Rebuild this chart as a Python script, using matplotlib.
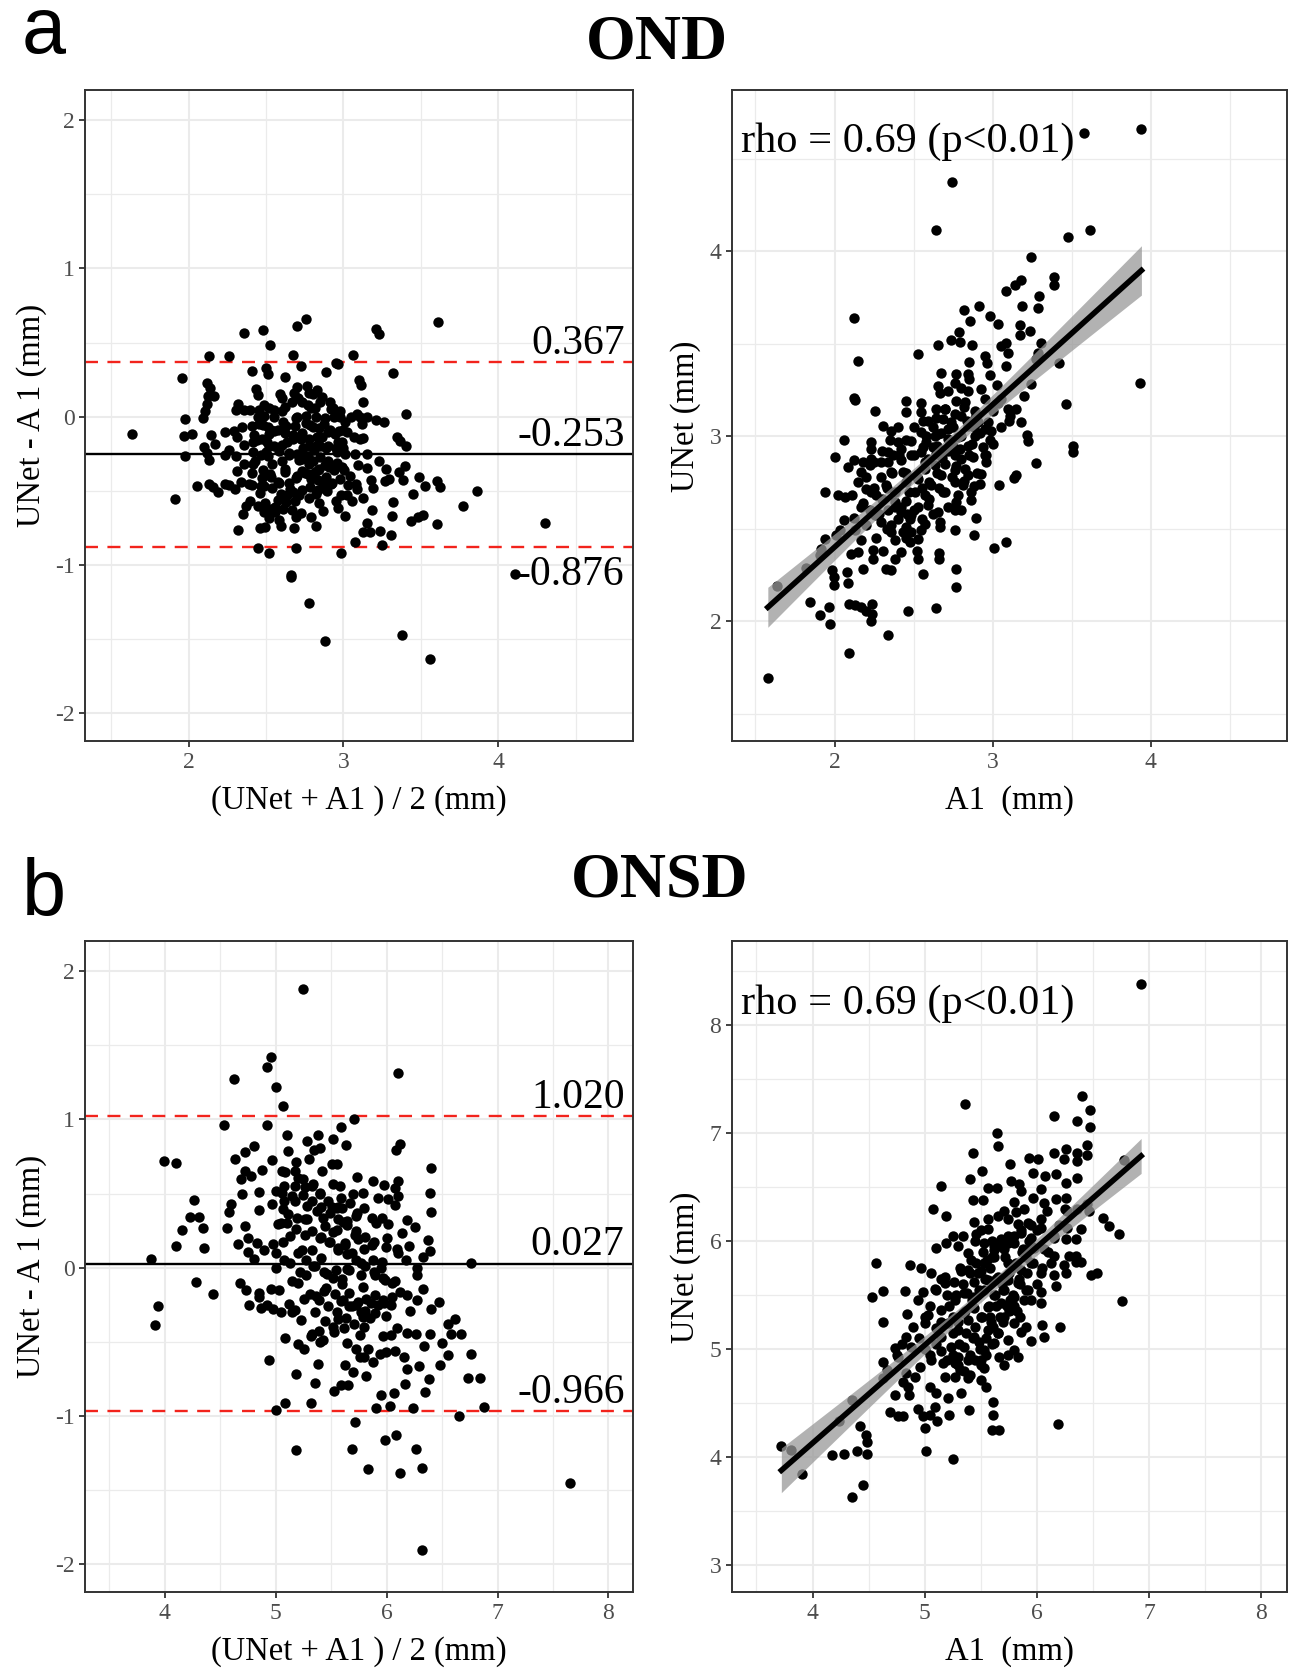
import numpy as np
import matplotlib
import matplotlib.pyplot as plt

matplotlib.use("Agg")
plt.rcParams["axes.unicode_minus"] = False

# OND: (A1, UNet) pairs
ond_a1 = [
    3.58, 2.745, 2.643, 3.614, 3.473, 3.245, 3.386, 3.386, 3.181, 3.143, 3.082, 3.291, 2.819, 2.911,
    3.186, 3.287, 2.854, 2.981, 3.034, 2.122, 2.785, 3.175, 3.234, 3.175, 2.738, 2.654, 2.869, 2.791,
    3.308, 3.086, 3.055, 3.097, 3.285, 2.527, 2.148, 2.954, 2.852, 2.964, 3.084, 3.276, 3.418, 2.675,
    2.770, 2.844, 2.981, 2.852, 2.759, 3.245, 2.654, 2.665, 2.717, 2.802, 2.844, 2.928, 3.025, 2.127,
    2.122, 2.454, 2.548, 2.770, 2.949, 3.466, 3.034, 3.94, 3.93,
    2.449, 2.549, 2.591, 2.643, 2.696, 2.253, 2.306, 2.354, 2.823, 2.886, 3.002, 3.055, 3.097, 3.108,
    3.177, 3.219, 3.224, 3.508, 3.508, 3.272, 3.146, 3.133, 3.040, 3.086, 3.008, 2.059, 2.004, 2.084,
    2.122, 2.165, 2.179, 2.228, 2.232, 2.232, 2.222, 1.937, 2.021, 2.068, 2.110, 2.165, 2.200, 2.232,
    2.295, 2.338, 2.338, 2.359, 2.422, 2.422, 2.432, 2.454, 2.327, 2.264, 2.380, 2.222, 2.253, 2.296,
    2.338, 2.359, 2.359, 2.059, 2.032, 2.011, 2.127, 2.169, 1.937, 1.916, 1.905, 1.821, 1.635, 1.842,
    1.905, 1.962, 1.968, 1.983, 1.996, 1.996, 2.080, 2.084, 2.089, 2.127, 2.165, 2.196, 2.236, 2.236,
    2.232, 2.338, 2.089, 1.578, 2.464, 2.639, 2.559, 2.770, 2.770, 2.660, 2.660, 2.521, 2.527, 2.380,
    2.422, 2.327, 2.359, 2.243, 2.243, 2.306, 2.148, 2.105, 2.179, 2.665, 2.665, 2.654, 2.759, 2.759,
    2.882, 2.897, 2.865, 2.882, 2.770, 2.549, 2.527, 2.475, 2.485, 2.454, 2.422, 2.485, 2.570, 2.591,
    2.570, 2.612, 2.686, 2.759, 2.812, 2.844, 2.823, 2.759, 2.675, 2.633, 2.570, 2.527, 2.506, 2.485,
    2.549, 2.591, 2.643, 2.696, 2.759, 2.802, 2.876, 2.949, 2.960, 2.928, 2.580, 2.633, 2.717, 2.781,
    2.844, 2.886, 2.949, 2.992, 2.970, 2.907, 2.844, 2.802, 2.738, 2.686, 2.717, 2.654, 2.549, 2.485,
    2.401, 2.369, 2.296, 2.45, 2.50, 2.55, 2.60, 2.70, 2.75, 2.65, 2.40, 2.45, 2.38,
    # dense core
    2.42, 2.47, 2.52, 2.57, 2.62, 2.67, 2.72, 2.77, 2.82, 2.87, 2.92, 2.60, 2.55, 2.65, 2.70, 2.75,
    2.80, 2.85, 2.90, 2.62, 2.50, 2.45, 2.58, 2.68, 2.74, 2.79, 2.84, 2.89, 2.94, 2.98, 2.53, 2.48,
    2.43, 2.38, 2.33, 2.36, 2.41, 2.64, 2.70, 2.76, 2.82, 2.88, 2.72, 2.78, 2.66, 2.56,
    2.15, 2.20, 2.25, 2.30, 2.28, 2.33, 2.38, 2.18, 2.12, 2.25, 2.30, 2.35, 2.40, 2.45, 2.50, 2.56,
    2.62, 2.80, 2.86, 2.92, 2.96, 3.00, 3.05, 3.10, 3.15, 3.20, 2.46, 2.26, 2.20,
]
ond_unet = [
    4.64, 4.376, 4.117, 4.117, 4.077, 3.968, 3.862, 3.817, 3.847, 3.817, 3.788, 3.757, 3.682, 3.707,
    3.707, 3.691, 3.622, 3.649, 3.608, 3.637, 3.563, 3.599, 3.568, 3.545, 3.518, 3.496, 3.496, 3.509,
    3.505, 3.505, 3.487, 3.448, 3.448, 3.446, 3.406, 3.433, 3.401, 3.394, 3.380, 3.416, 3.397, 3.343,
    3.338, 3.335, 3.329, 3.308, 3.286, 3.281, 3.272, 3.236, 3.245, 3.263, 3.245, 3.254, 3.275, 3.194,
    3.205, 3.191, 3.182, 3.191, 3.200, 3.173, 3.182, 4.66, 3.29,
    3.129, 3.129, 3.085, 3.147, 3.147, 3.138, 3.058, 3.031, 3.183, 3.138, 3.138, 3.201, 3.147, 3.112,
    3.079, 3.007, 2.977, 2.950, 2.917, 2.856, 2.788, 2.773, 2.737, 2.428, 2.396, 2.980, 2.887, 2.836,
    2.869, 2.806, 2.860, 2.968, 2.932, 2.878, 2.842, 2.698, 2.680, 2.671, 2.680, 2.617, 2.716, 2.698,
    2.779, 2.914, 2.860, 2.806, 2.932, 2.869, 2.806, 2.752, 2.734, 2.680, 2.644, 2.599, 2.572, 2.536,
    2.599, 2.518, 2.482, 2.545, 2.491, 2.464, 2.491, 2.437, 2.442, 2.392, 2.356, 2.288, 2.189, 2.104,
    2.036, 2.077, 1.986, 2.275, 2.239, 2.198, 2.266, 2.209, 2.095, 2.086, 2.077, 2.054, 2.095, 2.041,
    2.002, 1.928, 1.826, 1.694, 2.056, 2.074, 2.254, 2.284, 2.185, 2.371, 2.335, 2.378, 2.338, 2.338,
    2.374, 2.284, 2.275, 2.383, 2.338, 2.378, 2.374, 2.365, 2.284, 2.536, 2.509, 2.590, 2.599, 2.491,
    2.468, 2.558, 2.658, 2.730, 2.644, 2.491, 2.446, 2.428, 2.482, 2.509, 2.590, 2.572, 2.527, 2.626,
    2.680, 2.734, 2.698, 2.752, 2.734, 2.788, 2.824, 2.815, 2.788, 2.842, 2.824, 2.770, 2.698, 2.896,
    2.914, 2.878, 2.905, 2.923, 2.896, 2.878, 2.887, 2.896, 2.860, 2.797, 2.968, 3.004, 2.986, 2.995,
    2.950, 3.004, 3.040, 3.031, 3.076, 3.076, 3.058, 3.112, 3.076, 3.094, 3.040, 3.013, 3.022, 2.977,
    2.968, 2.896, 2.860, 2.65, 2.60, 2.55, 2.75, 2.85, 2.95, 2.95, 2.55, 2.45, 2.70,
    # dense core
    2.62, 2.70, 2.78, 2.86, 2.94, 3.02, 2.92, 2.84, 2.76, 2.96, 3.02, 2.66, 2.72, 2.80, 2.70, 3.05,
    3.00, 2.90, 2.80, 2.58, 2.90, 2.80, 3.00, 2.88, 2.78, 2.93, 3.08, 3.10, 2.94, 2.98, 2.62, 2.55,
    2.48, 2.62, 2.72, 2.80, 2.90, 3.10, 3.15, 3.12, 3.16, 3.05, 2.62, 2.68, 2.72, 2.94,
    2.75, 2.78, 2.72, 2.66, 2.58, 2.50, 2.44, 2.64, 2.56, 2.86, 2.92, 2.98, 3.05, 2.98, 3.05, 3.08,
    3.05, 2.60, 2.70, 2.74, 2.90, 2.96, 3.05, 3.08, 3.15, 3.22, 2.58, 2.45, 2.52,
]

# ONSD: (A1, UNet) pairs
onsd_a1 = [
    6.93, 5.361, 6.405, 6.473, 6.154, 6.361, 6.473, 5.645, 5.651, 5.429, 6.444, 6.154, 6.257, 6.243,
    6.361, 6.444, 6.361, 5.932, 6.012, 5.763, 5.515, 5.148, 5.408, 5.562, 5.645, 5.769, 5.843, 5.858,
    5.962, 6.071, 6.169, 6.257, 6.355, 6.036, 5.429, 5.518, 5.799, 5.962, 6.065, 6.169, 6.257, 5.074,
    5.192, 5.444, 5.562, 5.710, 5.814, 5.888, 6.036, 6.095, 6.272, 6.361, 6.464, 6.450, 6.592, 6.642,
    6.737, 6.775, 6.391, 6.272, 6.346, 6.257, 6.154, 6.036, 5.917, 5.828, 5.740, 5.651, 5.562, 5.459,
    5.340, 5.252, 5.192, 5.104, 5.296, 5.385, 5.533, 5.621, 5.740, 5.858, 5.947, 5.710, 5.799, 5.873,
    5.976, 6.065, 6.154, 6.287, 6.346,
    4.565, 4.867, 4.970, 5.059, 5.178, 5.178, 5.311, 4.527, 4.630, 4.822, 4.630, 4.846, 4.941, 4.985,
    5.089, 5.030, 5.000, 4.837, 4.734, 4.882, 4.630, 4.660, 4.630, 4.763, 4.837, 4.808, 4.852, 4.734,
    4.861, 4.349, 4.237, 4.423, 4.476, 4.482, 3.722, 3.808, 4.172, 4.284, 4.393, 4.488, 3.905, 4.453,
    4.349, 4.689, 4.763, 4.808, 4.941, 4.985, 5.044, 5.112, 5.000, 5.015, 5.257, 4.911, 4.956, 5.044,
    5.104, 5.089, 5.207, 5.213, 5.325, 5.399, 5.408, 5.503, 5.547, 5.607, 5.607, 5.598, 5.666, 6.189,
    6.760, 6.479, 6.533, 6.169, 6.036, 6.041, 6.050, 6.065, 6.207, 5.947, 5.858, 5.828, 5.740, 5.710,
    5.533, 5.385, 5.311, 5.266, 5.178, 5.163, 5.059, 5.296, 5.385, 5.533, 5.621, 5.740, 5.651, 5.562,
    5.444, 5.355, 5.237, 5.148, 5.104, 5.207, 5.296, 5.385, 5.503, 5.592, 5.710, 5.799, 5.769, 5.680,
    5.562, 5.444, 5.340, 5.251, 5.148, 5.266, 5.355, 5.444, 5.533, 5.621, 5.710, 5.799, 5.888, 5.917,
    5.828, 5.740, 5.651, 5.562, 5.473, 5.385, 5.414, 5.533, 5.621, 5.740, 5.858, 5.947, 6.036, 6.124,
    6.243, 6.346, 6.391, 6.154, 6.257, 5.488, 5.266, 5.503, 5.666, 5.799,
    # dense core
    5.22, 5.28, 5.34, 5.40, 5.46, 5.52, 5.58, 5.64, 5.70, 5.76, 5.82, 5.30, 5.36, 5.42, 5.48, 5.54,
    5.60, 5.66, 5.72, 5.78, 5.84, 5.90, 5.45, 5.51, 5.57, 5.63, 5.69, 5.75, 5.81, 5.87, 5.93, 5.25,
    5.31, 5.37, 5.43, 5.49, 5.55, 5.61, 5.67, 5.73, 5.79, 5.85, 5.91, 5.97, 5.38, 5.44, 5.50, 5.56,
    5.62, 5.68, 5.74, 5.80, 5.86, 5.95, 5.26, 5.32, 5.20, 5.15, 5.58, 5.64,
    4.95, 5.00, 5.05, 5.10, 5.15, 5.20, 5.25, 5.30, 5.35, 5.40, 5.45, 5.50, 5.55, 5.60, 5.65, 5.70,
    5.75, 5.80, 5.85, 5.90, 5.95, 6.00, 6.05, 6.10, 6.00, 5.95, 5.90, 6.15, 6.20, 6.25, 5.45, 5.50,
    5.60, 5.05, 5.10, 5.15, 5.00, 4.90, 4.80, 4.75,
]
onsd_unet = [
    8.38, 7.268, 7.345, 7.215, 7.154, 7.108, 7.052, 6.994, 6.877, 6.815, 6.892, 6.809, 6.846, 6.754,
    6.809, 6.791, 6.738, 6.769, 6.760, 6.708, 6.646, 6.508, 6.569, 6.492, 6.492, 6.554, 6.529, 6.462,
    6.625, 6.600, 6.615, 6.538, 6.585, 6.485, 6.378, 6.378, 6.360, 6.400, 6.354, 6.385, 6.400, 6.298,
    6.231, 6.175, 6.200, 6.277, 6.268, 6.292, 6.200, 6.277, 6.277, 6.292, 6.277, 6.338, 6.215, 6.138,
    6.068, 6.745, 6.114, 6.123, 6.022, 6.022, 6.031, 6.123, 6.169, 6.154, 6.200, 6.231, 6.108, 6.062,
    6.046, 6.046, 5.985, 5.938, 5.954, 5.892, 5.985, 5.954, 6.046, 6.077, 6.031, 5.923, 5.985, 5.923,
    5.938, 5.923, 5.862, 5.862, 5.862,
    5.792, 5.777, 5.746, 5.706, 5.669, 5.608, 5.746, 5.485, 5.540, 5.540, 5.254, 5.322, 5.454, 5.531,
    5.552, 5.315, 5.245, 5.115, 5.008, 5.023, 4.885, 4.808, 4.731, 4.931, 4.777, 4.700, 4.654, 4.577,
    4.577, 4.525, 4.331, 4.291, 4.208, 4.137, 4.106, 4.069, 4.023, 4.029, 4.054, 4.032, 3.848, 3.746,
    3.632, 4.423, 4.386, 4.377, 4.445, 4.386, 4.392, 4.331, 4.269, 4.054, 3.986, 4.746, 4.838, 4.654,
    4.592, 4.469, 4.546, 4.392, 4.598, 4.438, 4.762, 4.715, 4.654, 4.515, 4.392, 4.248, 4.248, 4.309,
    5.445, 5.685, 5.700, 5.583, 5.531, 5.429, 5.223, 5.115, 5.202, 5.078, 5.162, 4.931, 4.946, 4.854,
    4.823, 4.731, 4.808, 4.746, 4.746, 4.869, 4.900, 4.931, 4.900, 4.992, 5.054, 5.085, 5.146, 5.177,
    5.115, 5.023, 5.023, 5.115, 5.192, 5.238, 5.177, 5.269, 5.300, 5.254, 5.300, 5.238, 5.362, 5.423,
    5.392, 5.377, 5.331, 5.300, 5.362, 5.454, 5.515, 5.485, 5.546, 5.500, 5.546, 5.485, 5.454, 5.546,
    5.608, 5.638, 5.669, 5.638, 5.700, 5.731, 5.823, 5.792, 5.854, 5.792, 5.731, 5.792, 5.700, 5.792,
    5.777, 5.808, 5.808, 5.685, 5.700, 5.069, 4.869, 4.900, 4.931, 4.992,
    # dense core
    5.40, 5.50, 5.60, 5.70, 5.80, 5.90, 5.75, 5.65, 5.55, 5.45, 5.35, 5.25, 5.35, 5.45, 5.55, 5.65,
    5.85, 5.95, 5.85, 5.75, 5.65, 5.55, 5.20, 5.30, 5.40, 5.50, 5.60, 5.70, 5.80, 5.90, 6.00, 5.15,
    5.05, 5.15, 5.10, 5.00, 5.10, 5.20, 5.30, 5.40, 5.50, 5.60, 5.70, 5.80, 5.52, 5.62, 5.72, 5.82,
    5.92, 6.02, 5.98, 6.05, 6.10, 6.15, 5.62, 5.72, 5.50, 5.25, 5.30, 5.40,
    5.10, 5.00, 4.95, 5.05, 4.98, 4.90, 4.95, 4.85, 4.80, 4.95, 4.90, 4.85, 4.95, 5.05, 5.15, 5.25,
    5.35, 5.40, 5.30, 5.20, 5.45, 5.60, 5.75, 5.90, 6.10, 5.95, 5.85, 6.05, 6.15, 6.30, 6.00, 6.10,
    6.00, 5.40, 5.55, 5.65, 5.30, 5.20, 5.05, 4.95,
]

# agreement lines printed on the Bland-Altman panels (upper LoA, bias, lower LoA)
ond_limits = [0.367, -0.253, -0.876]
onsd_limits = [1.020, 0.027, -0.966]
rho_text = "rho = 0.69 (p<0.01)"

SERIF = "Liberation Serif"
GRID = "#EBEBEB"


def style_axes(ax, xlim, ylim, xticks, yticks):
    ax.set_xticks(xticks)
    ax.set_yticks(yticks)
    ax.set_xticks([t + 0.5 for t in xticks[:-1]] + [xticks[0] - 0.5, xticks[-1] + 0.5], minor=True)
    ax.set_yticks([t + 0.5 for t in yticks[:-1]] + [yticks[0] - 0.5, yticks[-1] + 0.5], minor=True)
    ax.set_xlim(xlim)
    ax.set_ylim(ylim)
    ax.grid(which="major", color=GRID, linewidth=1.5)
    ax.grid(which="minor", color=GRID, linewidth=0.9)
    ax.set_axisbelow(True)
    ax.tick_params(which="minor", length=0)
    ax.tick_params(which="major", length=4.5, width=1.3, color="#333333",
                   labelcolor="#4D4D4D", labelsize=17, pad=3)
    for lab in ax.get_xticklabels() + ax.get_yticklabels():
        lab.set_fontfamily(SERIF)
    for s in ax.spines.values():
        s.set_color("#333333")
        s.set_linewidth(1.4)


def bland_altman(ax, a1, unet, limits, xlim, xticks, low_below):
    a1 = np.array(a1)
    unet = np.array(unet)
    mean = (unet + a1) / 2
    diff = a1 - unet
    ax.scatter(mean, diff, s=56, color="black", linewidths=0, zorder=3)
    upper, bias, lower = limits
    ax.axhline(bias, color="black", linewidth=1.7, zorder=2)
    for v in (upper, lower):
        ax.axhline(v, color="#F2231C", linewidth=1.7, dashes=(5.5, 4), zorder=2)
    style_axes(ax, xlim, (-2.19, 2.2), xticks, [-2, -1, 0, 1, 2])
    trans = ax.get_yaxis_transform()
    for v in limits:
        off = -28 if (v == lower and low_below) else 6
        ax.annotate(f"{v:.3f}", xy=(0.985, v), xycoords=trans, xytext=(0, off),
                    textcoords="offset points", ha="right", va="baseline",
                    fontsize=30, family=SERIF, zorder=4)
    ax.set_xlabel("(UNet + A1 ) / 2 (mm)", family=SERIF, fontsize=23.5, labelpad=9)
    ax.set_ylabel("UNet - A 1 (mm)", family=SERIF, fontsize=23.5, labelpad=6)


def correlation(ax, a1, unet, xlim, ylim, xticks, yticks, rho_y):
    a1 = np.array(a1)
    unet = np.array(unet)
    ax.scatter(a1, unet, s=56, color="black", linewidths=0, zorder=3)
    # linear fit with 95% confidence band, like geom_smooth(method = "lm")
    slope, intercept = np.polyfit(a1, unet, 1)
    n = len(a1)
    resid = unet - (slope * a1 + intercept)
    s_err = np.sqrt(np.sum(resid ** 2) / (n - 2))
    xs = np.linspace(a1.min(), a1.max(), 100)
    ys = slope * xs + intercept
    se = s_err * np.sqrt(1 / n + (xs - a1.mean()) ** 2 / np.sum((a1 - a1.mean()) ** 2))
    ax.fill_between(xs, ys - 1.97 * se, ys + 1.97 * se, color="#999999", alpha=0.75,
                    linewidth=0, zorder=4)
    ax.plot(xs, ys, color="black", linewidth=4, zorder=5)
    style_axes(ax, xlim, ylim, xticks, yticks)
    ax.text(0.017, rho_y, rho_text, transform=ax.transAxes, fontsize=30.5,
            family=SERIF, va="baseline", ha="left", zorder=6)
    ax.set_xlabel("A1  (mm)", family=SERIF, fontsize=23.5, labelpad=9)
    ax.set_ylabel("UNet (mm)", family=SERIF, fontsize=23.5, labelpad=6)


fig = plt.figure(figsize=(12.89, 16.68), dpi=100)

ax_al = fig.add_axes([0.066, 0.5555, 0.4249, 0.3903])
ax_ar = fig.add_axes([0.5677, 0.5555, 0.4307, 0.3903])
ax_bl = fig.add_axes([0.066, 0.0453, 0.4249, 0.3903])
ax_br = fig.add_axes([0.5677, 0.0453, 0.4307, 0.3903])

bland_altman(ax_al, ond_a1, ond_unet, ond_limits, (1.33, 4.87), [2, 3, 4], True)
correlation(ax_ar, ond_a1, ond_unet, (1.35, 4.86), (1.35, 4.87), [2, 3, 4], [2, 3, 4], 0.905)

bland_altman(ax_bl, onsd_a1, onsd_unet, onsd_limits, (3.28, 8.22), [4, 5, 6, 7, 8], False)
correlation(ax_br, onsd_a1, onsd_unet, (3.28, 8.23), (2.75, 8.77), [4, 5, 6, 7, 8],
            [3, 4, 5, 6, 7, 8], 0.889)

fig.text(0.017, 0.968, "a", fontsize=57, family="Liberation Sans", va="baseline")
fig.text(0.017, 0.4517, "b", fontsize=57, family="Liberation Sans", va="baseline")
fig.text(0.51, 0.965, "OND", fontsize=46, family=SERIF, weight="bold", ha="center", va="baseline")
fig.text(0.512, 0.4625, "ONSD", fontsize=46, family=SERIF, weight="bold", ha="center", va="baseline")

fig.savefig("out.png", dpi=100)
